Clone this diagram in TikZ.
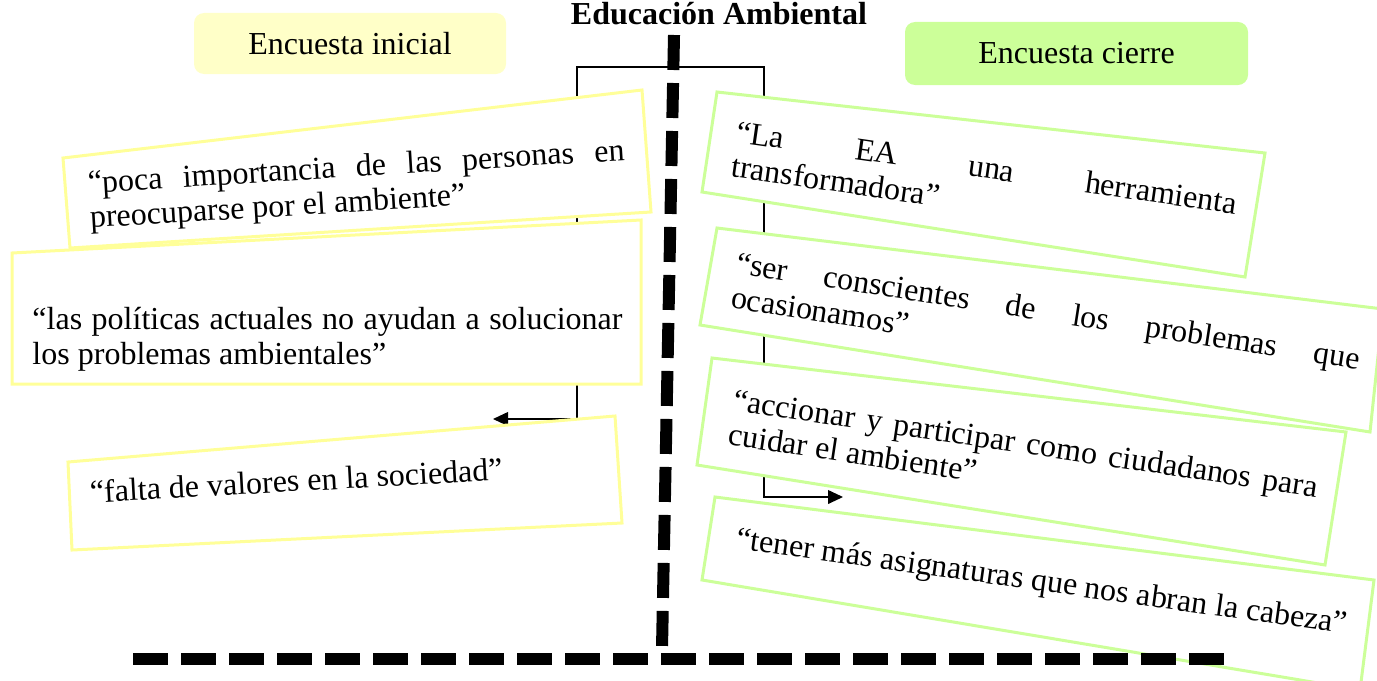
\documentclass[tikz,border=0pt]{standalone}
\usepackage{fontspec}
\setmainfont{Liberation Serif}
\usetikzlibrary{arrows.meta}
\definecolor{ylwline}{RGB}{255,255,153}
\definecolor{ylwfill}{RGB}{255,255,200}
\definecolor{grnline}{RGB}{204,255,153}
\definecolor{grnfill}{RGB}{204,255,153}
\tolerance=10000
\hbadness=10000
\hyphenpenalty=10000

\begin{document}
\begin{tikzpicture}[x=0.4pt,y=-0.4pt,
  font=\fontsize{12.8}{14}\selectfont,
  hdr/.style={rounded corners=4pt},
  ybox/.style={draw=ylwline,line width=1.2pt,fill=white},
  gbox/.style={draw=grnline,line width=1.2pt,fill=white},
  saying/.style={inner sep=0pt,anchor=base west,align=justify},
  link/.style={line width=0.6pt},
  bigdash/.style={line width=4.8pt,dash pattern=on 14pt off 5.2pt}]
\clip (0,0) rectangle (1377,680);
\node[font=\fontsize{12.8}{14}\selectfont\bfseries,anchor=base] (t) at (719,24) {Educación Ambiental};
\node[hdr,fill=ylwfill,minimum width=124.8pt,minimum height=24.4pt] (ini) at (350,43.5) {Encuesta inicial};
\node[hdr,fill=grnfill,minimum width=137.2pt,minimum height=25.2pt] (cie) at (1076.5,53.5) {Encuesta cierre};
\coordinate (hub) at (668,67);
\coordinate (ka) at (577,419);
\coordinate (tipa) at (493,419);
\coordinate (kb) at (764,497);
\coordinate (tipb) at (843,497);
\draw[link,-{Triangle[length=6pt,width=5.5pt]}] (hub) -| (ka) -- (tipa);
\draw[link,-{Triangle[length=6pt,width=5.5pt]}] (hub) -| (kb) -- (tipb);
\draw[ybox] (63,158) -- (642,90) -- (651,212) -- (70,248) -- cycle;
\node[saying,rotate=3.5,text width=215pt] (a) at (88,193) {“poca importancia de las personas en\linebreak preocuparse por el ambiente”};
\draw[ybox] (12,253) -- (641,220) -- (641,384) -- (12,384) -- cycle;
\node[saying,text width=236pt] (b) at (32,329) {“las políticas actuales no ayudan a solucionar\linebreak los problemas ambientales”};
\draw[ybox] (68,462) -- (615,416) -- (622,523) -- (72,550) -- cycle;
\node[saying,rotate=3.2] (c) at (90,503) {“falta de valores en la sociedad”};
\draw[gbox] (717,92) -- (1265,153) -- (1245,277) -- (702,192) -- cycle;
\node[saying,rotate=-8.2,text width=202pt] (d) at (735,142) {“La EA una herramienta\linebreak transformadora”};
\draw[gbox] (717,228) -- (1383,309) -- (1370,432) -- (700,325) -- cycle;
\node[saying,rotate=-8.8,text width=252pt] (e) at (735,273) {“ser conscientes de los problemas que\linebreak ocasionamos”};
\draw[gbox] (712,358) -- (1346,432) -- (1325,565) -- (697,465) -- cycle;
\node[saying,rotate=-8.5,text width=236pt] (f) at (732,410) {“accionar y participar como ciudadanos para\linebreak cuidar el ambiente”};
\draw[gbox] (715,497) -- (1374,580) -- (1360,690) -- (702,580) -- cycle;
\node[saying,rotate=-8] (g) at (735,548) {“tener más asignaturas que nos abran la cabeza”};
\draw[bigdash] (674,35) -- (662,648);
\draw[bigdash] (133,659) -- (1224,659);
\end{tikzpicture}
\end{document}
